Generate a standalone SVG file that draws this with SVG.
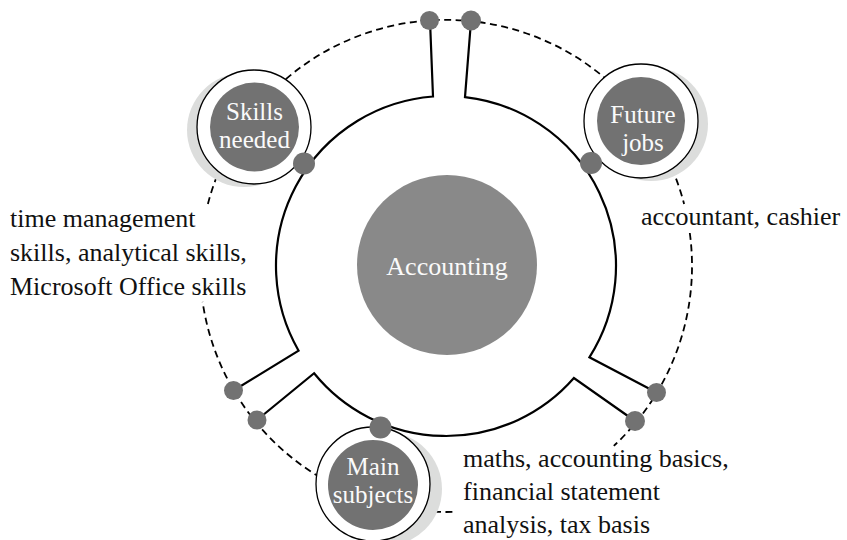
<svg xmlns="http://www.w3.org/2000/svg" width="847" height="540" viewBox="0 0 847 540">
<style>
  .dash { fill: none; stroke: #000; stroke-width: 1.8; stroke-dasharray: 7 4.5; }
  .ring { fill: none; stroke: #000; stroke-width: 2.2; stroke-linejoin: miter; }
  .shadow { fill: #dcdddc; }
  .outer { fill: #fff; stroke: #000; stroke-width: 1.3; }
  .inner { fill: #727272; }
  .dot { fill: #727272; }
  .ntext { font-family: "Liberation Serif", "Times New Roman", serif; font-size: 25px; fill: #fafafa; text-anchor: middle; }
  .label { font-family: "Liberation Serif", "Times New Roman", serif; font-size: 26px; fill: #111; }
</style>
<rect width="847" height="540" fill="#fff"/>

<g id="connectors">
  <path class="dash" d="M 689.8 233 A 246 246 0 0 1 613.8 445.9"/>
  <path class="dash" d="M 452.4 511.9 A 246 246 0 0 1 202.6 301.9"/>
  <path class="dash" d="M 207.9 204 A 246 246 0 0 1 684.1 204"/>
  <path class="ring" d="M 471 21 L 465 97.1 A 170 170 0 0 1 589.4 357.3 L 656.5 392.5"/>
  <path class="ring" d="M 635 421 L 573.9 378 A 170 170 0 0 1 314.1 373.2 L 257 420"/>
  <path class="ring" d="M 233.5 390.5 L 298.6 350.7 A 170 170 0 0 1 433 96.5 L 430 20.5"/>
</g>

<g id="center">
  <circle cx="447" cy="265" r="90" fill="#898989"/>
  <text x="447" y="275" class="ntext" style="font-size:26px">Accounting</text>
</g>

<g id="skills">
  <circle class="shadow" cx="244" cy="130" r="57"/>
  <circle class="outer" cx="254" cy="127" r="57"/>
  <circle class="inner" cx="254.5" cy="127" r="44.5"/>
  <text class="ntext" x="254.5" y="120">Skills</text>
  <text class="ntext" x="254.5" y="148">needed</text>
</g>

<g id="jobs">
  <circle class="shadow" cx="651" cy="124" r="57"/>
  <circle class="outer" cx="641" cy="121" r="57"/>
  <circle class="inner" cx="641" cy="121" r="44"/>
  <text class="ntext" x="643" y="123">Future</text>
  <text class="ntext" x="643" y="151">jobs</text>
</g>

<g id="subjects">
  <circle class="shadow" cx="385" cy="489" r="57"/>
  <circle class="outer" cx="373" cy="484" r="57"/>
  <circle class="inner" cx="373" cy="485" r="45"/>
  <text class="ntext" x="373" y="475">Main</text>
  <text class="ntext" x="373" y="503">subjects</text>
</g>

<g id="dots">
  <circle class="dot" cx="429.5" cy="20.5" r="9.5"/>
  <circle class="dot" cx="471" cy="20.5" r="10"/>
  <circle class="dot" cx="304" cy="163.5" r="11"/>
  <circle class="dot" cx="591" cy="163" r="11"/>
  <circle class="dot" cx="380.5" cy="427.5" r="11"/>
  <circle class="dot" cx="233.5" cy="390.5" r="9.5"/>
  <circle class="dot" cx="257" cy="420" r="9.5"/>
  <circle class="dot" cx="656.5" cy="392.5" r="9.5"/>
  <circle class="dot" cx="635" cy="421" r="10"/>
</g>

<g id="label-skills">
  <text class="label" x="10" y="227">time management</text>
  <text class="label" x="10" y="261">skills, analytical skills,</text>
  <text class="label" x="10" y="295">Microsoft Office skills</text>
</g>
<g id="label-jobs">
  <text class="label" x="641" y="225">accountant, cashier</text>
</g>
<g id="label-subjects">
  <text class="label" x="463" y="467">maths, accounting basics,</text>
  <text class="label" x="463" y="500">financial statement</text>
  <text class="label" x="463" y="533">analysis, tax basis</text>
</g>
</svg>
